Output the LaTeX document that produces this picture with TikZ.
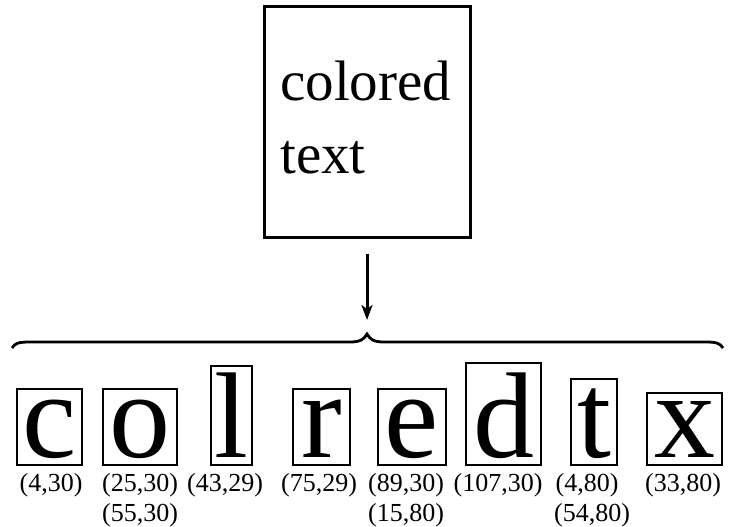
\documentclass[tikz,border=0pt]{standalone}
\usepackage{fontspec}
\setmainfont{Liberation Serif}
\usetikzlibrary{arrows.meta}
\tikzset{
  bigbox/.style={draw, line width=3pt, minimum width=206pt, minimum height=230pt, inner sep=0pt},
  bigtext/.style={font=\fontsize{57}{68}\selectfont, anchor=base west, inner sep=0pt},
  charbox/.style={draw, line width=1.7pt, inner sep=0pt},
  glyph/.style={font=\fontsize{122}{140}\selectfont, anchor=base, inner sep=0pt},
  coordlabel/.style={font=\fontsize{26}{30}\selectfont, anchor=base, inner sep=0pt},
  bracepath/.style={line width=2.8pt},
  arr/.style={line width=3pt, -{Stealth[length=15pt,width=11pt,inset=4pt]}}
}
\begin{document}
\begin{tikzpicture}[x=1pt,y=-1pt]
\useasboundingbox (0,0) rectangle (734,527);
% top box
\node[bigbox] (top) at (367,122) {};
\node[bigtext] (t1) at (280,100) {colored};
\node[bigtext] (t2) at (280,173) {text};
% brace
\coordinate (bl) at (12,348);
\coordinate (btip) at (367,334);
\coordinate (br) at (723,348);
\draw[bracepath] (bl) .. controls (15,343) and (19,342) .. (30,342) -- (350,342)
  .. controls (361,342) and (364,339) .. (btip)
  .. controls (370,339) and (373,342) .. (384,342) -- (705,342)
  .. controls (716,342) and (720,343) .. (br);
% arrow
\draw[arr] ([yshift=-15pt]top.south) -- ([yshift=14pt]btip);
% character boxes
\node[charbox, minimum width=65pt, minimum height=76pt] (bc) at (49.5,427) {};
\node[charbox, minimum width=74pt, minimum height=76pt] (bo) at (140,427) {};
\node[charbox, minimum width=41pt, minimum height=99pt] (bl2) at (231.5,415.5) {};
\node[charbox, minimum width=57pt, minimum height=76pt] (br2) at (321.5,427) {};
\node[charbox, minimum width=68pt, minimum height=76pt] (be) at (412,427) {};
\node[charbox, minimum width=75pt, minimum height=102pt] (bd) at (503.5,414) {};
\node[charbox, minimum width=46pt, minimum height=86pt] (bt) at (594,422) {};
\node[charbox, minimum width=75pt, minimum height=72pt] (bx) at (684.5,429) {};
% glyphs
\node[glyph] (gc) at (49.5,457) {c};
\node[glyph] (go) at (140,457) {o};
\node[glyph] (gl) at (231.5,457) {l};
\node[glyph] (gr) at (321.5,457) {r};
\node[glyph] (ge) at (412,457) {e};
\node[glyph] (gd) at (503.5,457) {d};
\node[glyph] (gt) at (594,457) {t};
\node[glyph] (gx) at (684.5,457) {x};
% labels
\node[coordlabel] (lc) at (51,491) {(4,30)};
\node[coordlabel] (lo1) at (140,491) {(25,30)};
\node[coordlabel] (lo2) at (140,521) {(55,30)};
\node[coordlabel] (ll) at (225,491) {(43,29)};
\node[coordlabel] (lr) at (319,491) {(75,29)};
\node[coordlabel] (le1) at (406,491) {(89,30)};
\node[coordlabel] (le2) at (406,521) {(15,80)};
\node[coordlabel] (ld) at (498,491) {(107,30)};
\node[coordlabel] (lt1) at (587,491) {(4,80)};
\node[coordlabel] (lt2) at (592,521) {(54,80)};
\node[coordlabel] (lx) at (683,491) {(33,80)};
\end{tikzpicture}
\end{document}
